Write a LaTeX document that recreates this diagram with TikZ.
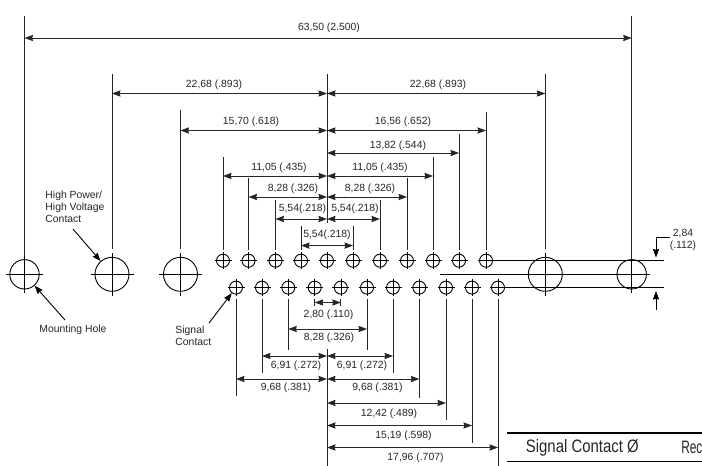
\documentclass[tikz,border=0pt]{standalone}
\usepackage{fontspec}
\setmainfont{Liberation Sans}
\usetikzlibrary{arrows.meta}

\begin{document}
\begin{tikzpicture}[>={Stealth[length=8.5pt,width=6.2pt,inset=0.8pt]},x=1pt,y=-1pt,line width=0.9pt,
                    every node/.style={inner sep=0pt,text=black!85,font=\fontsize{10.4}{12}\selectfont}]
  \tikzstyle{hole}=[circle,draw,minimum size=13pt]
  \tikzstyle{mount}=[circle,draw,minimum size=29.4pt]
  \tikzstyle{power}=[circle,draw,minimum size=34pt]
  \tikzstyle{dim}=[<->,black!85]
  \tikzstyle{ext}=[black!85,shorten <=4pt]
  \tikzstyle{lead}=[->,black]
  \tikzstyle{rule}=[line width=1.2pt]
  \tikzstyle{head}=[font=\fontsize{18}{20}\selectfont,anchor=west]

  \useasboundingbox (0,0) rectangle (702,466);

  % large holes
  \node[mount] (mL) at (24.5,274.3) {};
  \node[power] (pL) at (112,274.3) {};
  \node[power] (pM) at (180.5,274.3) {};
  \node[power] (pR) at (545.3,274.3) {};
  \node[mount] (mR) at (631.7,274.3) {};

  % upper row of contacts
  \node[hole] (t1) at (223,260.7) {};
  \node[hole] (t2) at (248.5,260.7) {};
  \node[hole] (t3) at (275.5,260.7) {};
  \node[hole] (t4) at (301,260.7) {};
  \node[hole] (t5) at (327,260.7) {};
  \node[hole] (t6) at (353,260.7) {};
  \node[hole] (t7) at (380,260.7) {};
  \node[hole] (t8) at (407,260.7) {};
  \node[hole] (t9) at (433,260.7) {};
  \node[hole] (t10) at (459,260.7) {};
  \node[hole] (t11) at (486,260.7) {};

  % lower row of contacts
  \node[hole] (b1) at (236,287.6) {};
  \node[hole] (b2) at (262,287.6) {};
  \node[hole] (b3) at (288.3,287.6) {};
  \node[hole] (b4) at (314.7,287.6) {};
  \node[hole] (b5) at (340.8,287.6) {};
  \node[hole] (b6) at (367,287.6) {};
  \node[hole] (b7) at (393,287.6) {};
  \node[hole] (b8) at (419.3,287.6) {};
  \node[hole] (b9) at (446,287.6) {};
  \node[hole] (b10) at (472,287.6) {};
  \node[hole] (b11) at (498,287.6) {};

  % centre marks
  \foreach \n in {t1,t2,t3,t4,t5,t6,t7,t8,t9,t10,t11,b1,b2,b3,b4,b5,b6,b7,b8,b9,b10,b11}
    \draw[line width=0.6pt] ([xshift=-8.5pt]\n.center) -- ([xshift=8.5pt]\n.center)
                            ([yshift=-8.5pt]\n.center) -- ([yshift=8.5pt]\n.center);
  \foreach \n/\r in {mL/18.5,mR/18.5,pL/21.5,pM/21.5,pR/21.5}
    \draw[line width=0.6pt] ([xshift=-\r pt]\n.center) -- ([xshift=\r pt]\n.center)
                            ([yshift=-\r pt]\n.center) -- ([yshift=\r pt]\n.center);

  % centre lines through the rows
  \coordinate (rowT) at (664,260.7);
  \coordinate (rowB) at (664,287.6);
  \coordinate (rowMa) at (440,274.3);
  \coordinate (rowMb) at (650,274.3);
  \draw (t11.east) -- (rowT);
  \draw (b11.east) -- (rowB);
  \draw (rowMa) -- (rowMb);

  % axis
  \coordinate (axA) at (327,74);
  \coordinate (axB) at (327,222.7);
  \coordinate (axC) at (327,349);
  \coordinate (axD) at (327,466);
  \draw[black!85] (axA) -- (axB);
  \draw[black!85] (axC) -- (axD);

  % extension lines
  \foreach \n/\y in {t1/157,t2/178,t3/200,t4/226,t6/226,t7/200,t8/178,t9/157,t10/134,t11/112,
                     b1/396,b2/373,b3/350,b4/306,b5/306,b6/350,b7/373,b8/398,b9/420,b10/443,b11/466}
    \coordinate (\n e) at (\n |- 0,\y);
  \foreach \n in {t1,t2,t3,t4,t6,t7,t8,t9,t10,t11}
    \draw[ext] (\n.north) -- (\n e);
  \foreach \n in {b1,b2,b3,b4,b5,b6,b7,b8,b9,b10,b11}
    \draw[ext] (\n.south) -- (\n e);
  \coordinate (mLe) at (24.5,16);
  \coordinate (mRe) at (631.7,16);
  \coordinate (pLe) at (112,74);
  \coordinate (pMe) at (180.5,110);
  \coordinate (pRe) at (545.3,74);
  \draw[ext,shorten <=3pt] (mL.north) -- (mLe);
  \draw[ext,shorten <=0pt] (mR.north) -- (mRe);
  \draw[ext,shorten <=8pt] (pL.north) -- (pLe);
  \draw[ext,shorten <=8pt] (pM.north) -- (pMe);
  \draw[ext,shorten <=8pt] (pR.north) -- (pRe);

  % levels of the dimension lines
  \coordinate (l1) at (0,38);
  \coordinate (l2) at (0,93.5);
  \coordinate (l3) at (0,130.5);
  \coordinate (l4) at (0,153);
  \coordinate (l5) at (0,176);
  \coordinate (l6) at (0,197);
  \coordinate (l7) at (0,219);
  \coordinate (l8) at (0,245.6);
  \coordinate (l9) at (0,302.5);
  \coordinate (l10) at (0,329);
  \coordinate (l11) at (0,356);
  \coordinate (l12) at (0,379);
  \coordinate (l13) at (0,403);
  \coordinate (l14) at (0,425.5);
  \coordinate (l15) at (0,447.5);

  \path (mL |- l1) edge[dim] (mR |- l1)
        (pL |- l2) edge[dim] (axA |- l2)
        (axA |- l2) edge[dim] (pR |- l2)
        (pM |- l3) edge[dim] (axA |- l3)
        (axA |- l3) edge[dim] (t11 |- l3)
        (axA |- l4) edge[dim] (t10 |- l4)
        (t1 |- l5) edge[dim] (axA |- l5)
        (axA |- l5) edge[dim] (t9 |- l5)
        (t2 |- l6) edge[dim] (axA |- l6)
        (axA |- l6) edge[dim] (t8 |- l6)
        (t3 |- l7) edge[dim] (axA |- l7)
        (axA |- l7) edge[dim] (t7 |- l7)
        (t4 |- l8) edge[dim] (t6 |- l8)
        (b4 |- l9) edge[dim] (b5 |- l9)
        (b3 |- l10) edge[dim] (b6 |- l10)
        (b2 |- l11) edge[dim] (axA |- l11)
        (axA |- l11) edge[dim] (b7 |- l11)
        (b1 |- l12) edge[dim] (axA |- l12)
        (axA |- l12) edge[dim] (b8 |- l12)
        (axA |- l13) edge[dim] (b9 |- l13)
        (axA |- l14) edge[dim] (b10 |- l14)
        (axA |- l15) edge[dim] (b11 |- l15);

  % dimension texts
  \node (d6350) at (329,27.5) {63,50 (2.500)};
  \node (d2268a) at (214,84.5) {22,68 (.893)};
  \node (d2268b) at (438,84.5) {22,68 (.893)};
  \node (d1570) at (251,122) {15,70 (.618)};
  \node (d1656) at (403,122) {16,56 (.652)};
  \node (d1382) at (398,145.5) {13,82 (.544)};
  \node (d1105a) at (279,167.5) {11,05 (.435)};
  \node (d1105b) at (380,168) {11,05 (.435)};
  \node (d828a) at (293,188.5) {8,28 (.326)};
  \node (d828b) at (370,188.5) {8,28 (.326)};
  \node (d554a) at (302.5,209) {5,54(.218)};
  \node (d554b) at (355,209) {5,54(.218)};
  \node (d554c) at (327,234.5) {5,54(.218)};
  \node (d280) at (328.5,314.5) {2,80 (.110)};
  \node (d828c) at (329,338) {8,28 (.326)};
  \node (d691a) at (296,365.5) {6,91 (.272)};
  \node (d691b) at (362,365.5) {6,91 (.272)};
  \node (d968a) at (286,387.5) {9,68 (.381)};
  \node (d968b) at (377.5,387.5) {9,68 (.381)};
  \node (d1242) at (389,413.5) {12,42 (.489)};
  \node (d1519) at (403.5,436) {15,19 (.598)};
  \node (d1796) at (415.5,457.5) {17,96 (.707)};

  % pitch of the rows
  \node[align=center] (d284) at (683,239.5) {2,84\\(.112)};
  \coordinate (pA) at (670,237);
  \coordinate (pB) at (656,237);
  \coordinate (pC) at (656,257.5);
  \coordinate (pD) at (656,310);
  \coordinate (pE) at (656,291);
  \draw[lead] (pA) -- (pB) -- (pC);
  \draw[lead] (pD) -- (pE);

  % callouts
  \node[align=left,anchor=north west] (power) at (45,190.5) {High Power/\\High Voltage\\Contact};
  \node (mounting) at (73,329.5) {Mounting Hole};
  \node[align=left,anchor=north west] (signal) at (175,326) {Signal\\Contact};
  \coordinate (cA) at (73,229);
  \coordinate (cB) at (65,320);
  \coordinate (cC) at (209,323);
  \draw[lead] (cA) -- (pL);
  \draw[lead] (cB) -- (mL);
  \draw[lead] (cC) -- (b1);

  % table
  \coordinate (rA) at (507,433);
  \coordinate (rB) at (702,433);
  \coordinate (rC) at (507,461.7);
  \coordinate (rD) at (702,461.7);
  \draw[rule] (rA) -- (rB);
  \draw[rule] (rC) -- (rD);
  \node[head,xscale=0.83] (sigcontact) at (525.5,447.5) {Signal Contact Ø};
  \node[head,xscale=0.66] (rec) at (681,447.5) {Rec};
\end{tikzpicture}
\end{document}
